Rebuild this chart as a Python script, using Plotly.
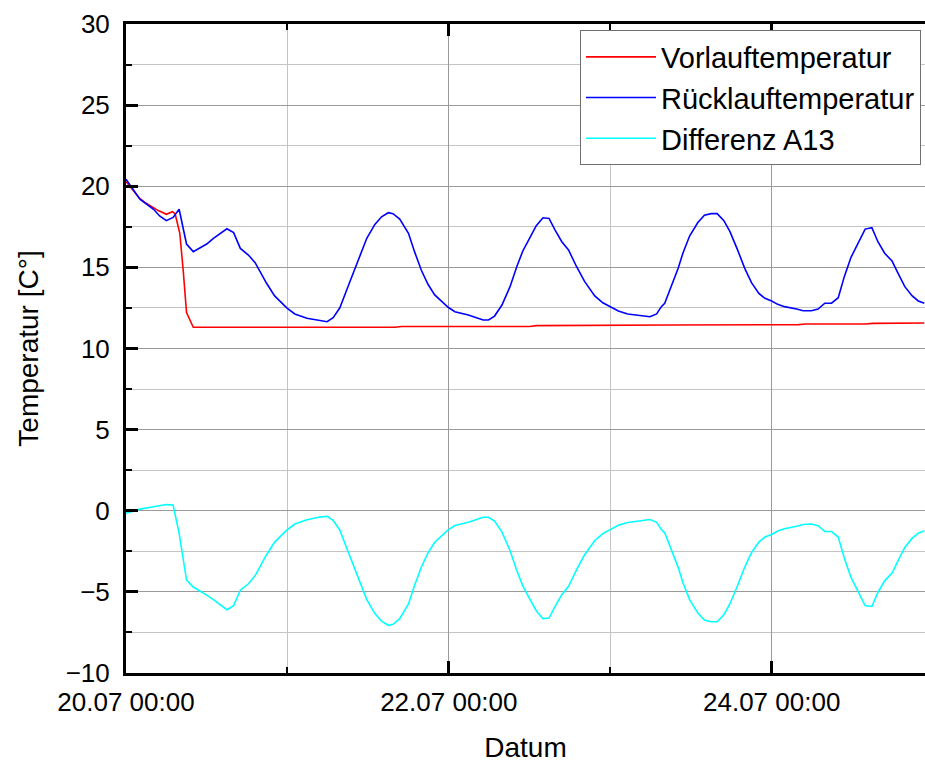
import pandas as pd
import plotly.graph_objects as go

# Start of the measurement period
START = pd.Timestamp("2021-07-20 00:00")

# Vorlauftemperatur: hours since start, value in °C
vl_hours = [0, 2.0, 3.0, 4.8, 6.0, 6.9, 7.3, 8.0, 8.5, 9.0, 10.0,
            40.0, 41.0, 60.0, 61.0, 80.0, 81.0, 100.0, 101.0, 110.0, 111.0, 118.7]
vl_temp = [20.3, 19.26, 18.95, 18.5, 18.27, 18.43, 18.3, 17.1, 14.84, 12.21, 11.31,
           11.31, 11.36, 11.36, 11.41, 11.41, 11.45, 11.47, 11.51, 11.51, 11.55, 11.57]

# Rücklauftemperatur and difference share one time base
rl_hours = [0, 2.1, 4.1, 5.0, 6.0, 7.0, 7.9, 9.0, 10.0, 12.0, 13.0, 15.0, 16.0, 17.0,
            18.2, 19.2, 20.9, 22.1, 23.9, 25.1, 26.9, 28.8, 29.9, 30.8, 31.8, 33.0,
            34.3, 35.8, 37.0, 38.0, 39.0, 39.7, 40.7, 42.0, 42.9, 43.9, 44.9, 45.9,
            47.9, 48.9, 50.9, 53.1, 53.9, 54.8, 55.9, 57.1, 58.1, 59.0, 60.0, 61.0,
            62.0, 62.9, 63.8, 64.8, 65.8, 67.0, 68.2, 69.7, 70.9, 71.9, 73.2, 74.6,
            76.6, 77.9, 78.9, 79.6, 80.1, 81.1, 82.1, 82.8, 83.8, 85.0, 86.0, 87.0,
            87.9, 88.9, 89.8, 90.9, 92.0, 93.0, 94.1, 95.0, 96.0, 96.9, 97.9, 99.7,
            100.7, 101.9, 102.9, 103.9, 104.9, 105.9, 106.8, 107.8, 108.8, 109.9,
            110.9, 111.8, 112.8, 113.9, 114.8, 115.8, 116.9, 117.8, 118.7]
rl_temp = [20.43, 19.19, 18.58, 18.17, 17.88, 18.08, 18.58, 16.44, 15.97, 16.44, 16.79,
           17.38, 17.14, 16.17, 15.76, 15.29, 14.02, 13.24, 12.51, 12.13, 11.86, 11.70,
           11.65, 11.90, 12.51, 13.81, 15.15, 16.79, 17.65, 18.12, 18.37, 18.31, 17.98,
           17.10, 15.97, 14.84, 13.96, 13.30, 12.54, 12.27, 12.07, 11.76, 11.76, 12.00,
           12.68, 13.81, 15.04, 16.01, 16.79, 17.57, 18.06, 18.02, 17.30, 16.58, 16.07,
           15.04, 14.12, 13.24, 12.82, 12.58, 12.31, 12.13, 12.00, 11.96, 12.13, 12.58,
           12.79, 13.81, 14.94, 15.87, 16.93, 17.75, 18.21, 18.31, 18.31, 17.88, 17.20,
           16.11, 14.94, 14.06, 13.40, 13.09, 12.93, 12.72, 12.58, 12.43, 12.33, 12.33,
           12.43, 12.79, 12.79, 13.13, 14.43, 15.62, 16.48, 17.36, 17.45, 16.58, 15.87,
           15.39, 14.63, 13.81, 13.24, 12.93, 12.79]
diff_temp = [-0.15, 0.10, 0.25, 0.30, 0.38, 0.36, -1.39, -4.27, -4.70, -5.20, -5.48,
             -6.10, -5.85, -4.90, -4.50, -4.00, -2.71, -1.93, -1.20, -0.82, -0.55, -0.39,
             -0.34, -0.59, -1.20, -2.50, -3.84, -5.48, -6.34, -6.81, -7.06, -7.00, -6.65,
             -5.74, -4.61, -3.48, -2.60, -1.94, -1.18, -0.91, -0.71, -0.40, -0.40, -0.64,
             -1.32, -2.45, -3.68, -4.63, -5.41, -6.16, -6.65, -6.61, -5.89, -5.17, -4.66,
             -3.63, -2.71, -1.83, -1.41, -1.17, -0.90, -0.72, -0.59, -0.54, -0.71, -1.16,
             -1.36, -2.37, -3.49, -4.42, -5.48, -6.29, -6.74, -6.84, -6.84, -6.41, -5.73,
             -4.64, -3.47, -2.59, -1.93, -1.62, -1.46, -1.25, -1.11, -0.96, -0.85, -0.82,
             -0.92, -1.28, -1.28, -1.62, -2.92, -4.11, -4.97, -5.84, -5.90, -5.03, -4.32,
             -3.84, -3.08, -2.26, -1.69, -1.38, -1.24]

Y_TICKS = [-10, -5, 0, 5, 10, 15, 20, 25, 30]


def to_time(hours):
    return START + pd.to_timedelta(hours, unit="h")


FONT = "Arial, Liberation Sans, sans-serif"
DAY_MS = 86400000

fig = go.Figure()
fig.add_trace(go.Scatter(x=to_time(vl_hours), y=vl_temp, mode="lines",
                         name="Vorlauftemperatur", line=dict(color="#ff0000", width=1.6)))
fig.add_trace(go.Scatter(x=to_time(rl_hours), y=rl_temp, mode="lines",
                         name="Rücklauftemperatur", line=dict(color="#0000ff", width=1.6)))
fig.add_trace(go.Scatter(x=to_time(rl_hours), y=diff_temp, mode="lines",
                         name="Differenz A13", line=dict(color="#00ffff", width=1.6)))

fig.update_layout(
    width=925, height=763,
    margin=dict(l=126, r=0, t=24, b=90),
    paper_bgcolor="white", plot_bgcolor="white",
    font=dict(family=FONT, color="black"),
    legend=dict(x=0.995, y=0.99, xanchor="right", yanchor="top",
                bgcolor="white", bordercolor="#707070", borderwidth=1,
                font=dict(size=29, family=FONT, color="black"),
                tracegroupgap=0, itemwidth=70),
    xaxis=dict(
        type="date",
        range=[to_time(0), to_time(118.8)],
        tick0=to_time(0), dtick=2 * DAY_MS, tickformat="%d.%m %H:%M",
        ticks="inside", ticklen=12, tickwidth=2.5, tickcolor="black",
        showline=True, linewidth=3, linecolor="black", mirror="ticks",
        showgrid=True, gridcolor="#9a9a9a", gridwidth=1,
        minor=dict(dtick=DAY_MS, ticks="inside", ticklen=6, tickwidth=2,
                   tickcolor="black", showgrid=True, gridcolor="#c4c4c4", gridwidth=1),
        tickfont=dict(size=26, family=FONT, color="black"),
        ticklabelstandoff=4,
        title=dict(text="Datum", font=dict(size=28, family=FONT, color="black"),
                   standoff=23),
        zeroline=False,
    ),
    yaxis=dict(
        range=[-10, 30], tickvals=Y_TICKS,
        ticks="inside", ticklen=12, tickwidth=2.5, tickcolor="black",
        showline=True, linewidth=3, linecolor="black",
        showgrid=True, gridcolor="#9a9a9a", gridwidth=1,
        minor=dict(dtick=2.5, ticks="inside", ticklen=6, tickwidth=2,
                   tickcolor="black", showgrid=True, gridcolor="#c4c4c4", gridwidth=1),
        tickfont=dict(size=26, family=FONT, color="black"),
        ticklabelstandoff=8,
        title=dict(text="Temperatur [C°]", font=dict(size=28, family=FONT, color="black"),
                   standoff=19),
        zeroline=False,
    ),
)

fig.write_html("out.html")
